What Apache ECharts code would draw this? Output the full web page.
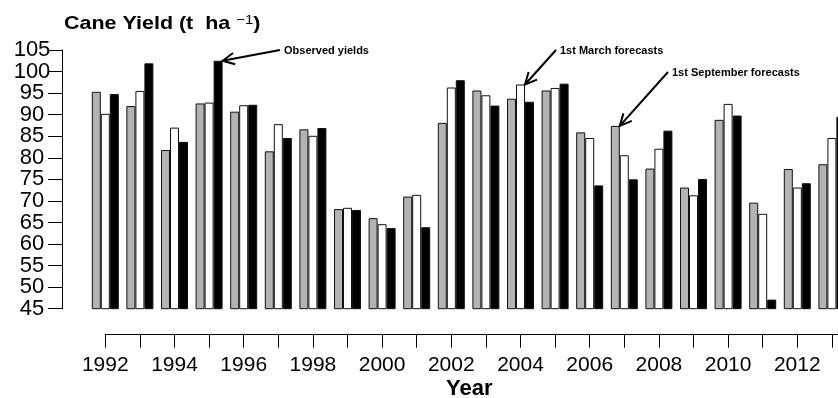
<!DOCTYPE html>
<html>
<head>
<meta charset="utf-8">
<script src="https://cdn.jsdelivr.net/npm/echarts@6/dist/echarts.min.js"></script>
<style>html,body{margin:0;padding:0;background:#fff;}#c{width:838px;height:398px;}</style>
</head>
<body>
<div id="c"></div>
<script>
// ---- data ----
const years = ['1992','1993','1994','1995','1996','1997','1998','1999','2000','2001','2002','2003','2004','2005','2006','2007','2008','2009','2010','2011','2012','2013'];
const septForecast = [95.3, 92.0, 81.8, 92.6, 90.7, 81.5, 86.6, 68.1, 66.0, 71.0, 88.1, 95.6, 93.7, 95.6, 85.9, 87.4, 77.5, 73.1, 88.8, 69.6, 77.4, 78.5];
const marchForecast = [90.2, 95.5, 87.0, 92.8, 92.2, 87.8, 85.1, 68.4, 64.6, 71.4, 96.3, 94.5, 97.0, 96.2, 84.6, 80.6, 82.1, 71.3, 92.5, 67.0, 73.1, 84.6];
const observed = [94.8, 101.9, 83.7, 102.5, 92.3, 84.6, 86.9, 67.9, 63.7, 63.9, 98.0, 92.1, 93.0, 97.2, 73.6, 75.0, 86.3, 75.1, 89.8, 47.1, 74.1, 89.5];
const yMin = 45, yMax = 105;
const yTicks = [45, 50, 55, 60, 65, 70, 75, 80, 85, 90, 95, 100, 105];
const yLabelsA = [45, 55, 65, 75, 85, 95, 105];
const yLabelsB = [50, 60, 70, 80, 90, 100];
const xTickMin = 1992, xTickMax = 2013.5;
const titleMain = 'Cane Yield (t  ha ', titleSup = '\u22121', titleEnd = ')';
const xName = 'Year';

const BW = 9;
const FONT = '"Liberation Sans", Arial, Helvetica, sans-serif';
const chart = echarts.init(document.getElementById('c'), null, {renderer: 'canvas'});

const barStyle = (fill) => ({color: fill, borderColor: '#111', borderWidth: 1});
const yLabelStyle = (vals) => ({customValues: vals, margin: 30, align: 'center', color: '#000', fontFamily: FONT, fontSize: 22,
  showMinLabel: true, showMaxLabel: true, hideOverlap: false});

chart.setOption({
  animation: false,
  backgroundColor: '#fff',
  title: [{
    text: xName, left: 446, top: 378, padding: 0,
    textStyle: {fontFamily: FONT, fontWeight: 'bold', fontSize: 22, color: '#000'}
  }],
  grid: [
    {left: 88, top: 50, width: 761.2, bottom: 89.3, containLabel: false, outerBoundsMode: 'none'},
    {left: 105.3, top: 50, width: 743.9, bottom: 89.3, containLabel: false, outerBoundsMode: 'none'}
  ],
  xAxis: [{
    type: 'category', gridIndex: 0, data: years, show: false
  }, {
    type: 'value', gridIndex: 1, min: xTickMin, max: xTickMax, interval: 1,
    position: 'bottom', offset: 26,
    axisLine: {show: true, onZero: false, lineStyle: {color: '#000', width: 1}},
    axisTick: {show: true, length: 13, lineStyle: {color: '#000', width: 1}},
    splitLine: {show: false},
    axisLabel: {
      margin: 20, color: '#000', fontFamily: FONT, fontSize: 21, showMinLabel: true, hideOverlap: false,
      formatter: v => (Number.isInteger(v) && v % 2 === 0) ? String(v) : ''
    }
  }],
  yAxis: [{
    type: 'value', gridIndex: 0, min: yMin, max: yMax,
    position: 'left', offset: 26,
    axisLine: {show: true, onZero: false, lineStyle: {color: '#000', width: 1}},
    axisTick: {show: true, customValues: yTicks, length: 14, lineStyle: {color: '#000', width: 1}},
    splitLine: {show: false},
    axisLabel: yLabelStyle(yLabelsA)
  }, {
    type: 'value', gridIndex: 0, min: yMin, max: yMax,
    position: 'left', offset: 26,
    axisLine: {show: false}, axisTick: {show: false}, splitLine: {show: false},
    axisLabel: yLabelStyle(yLabelsB)
  }, {
    type: 'value', gridIndex: 1, show: false, min: 0, max: 1
  }],
  series: [
    {name: '1st September forecasts', type: 'bar', xAxisIndex: 0, yAxisIndex: 0, data: septForecast, barWidth: BW, barGap: '0%', itemStyle: barStyle('#b3b3b3')},
    {name: '1st March forecasts', type: 'bar', xAxisIndex: 0, yAxisIndex: 0, data: marchForecast, barWidth: BW, barGap: '0%', itemStyle: barStyle('#ffffff')},
    {name: 'Observed yields', type: 'bar', xAxisIndex: 0, yAxisIndex: 0, data: observed, barWidth: BW, barGap: '0%', itemStyle: barStyle('#000000')}
  ]
});

// ---- annotations: arrow tips computed from the data through the axes ----
const seriesData = [septForecast, marchForecast, observed];
const annotations = [
  {label: 'Observed yields', series: 2, year: '1995', tail: [280, 50]},
  {label: '1st March forecasts', series: 1, year: '2004', tail: [556, 50]},
  {label: '1st September forecasts', series: 0, year: '2007', tail: [668, 72]}
];
const elements = [];
// chart title (horizontally widened like the reference)
elements.push({
  type: 'text', x: 64, y: 14, scaleX: 1.155, z: 100,
  style: {
    text: '{m|' + titleMain + '}{s|' + titleSup + '}{m|' + titleEnd + '}',
    verticalAlign: 'top',
    rich: {
      m: {fontFamily: FONT, fontWeight: 'bold', fontSize: 18.6, fill: '#000', verticalAlign: 'bottom'},
      s: {fontFamily: FONT, fontWeight: 'normal', fontSize: 13, fill: '#000', verticalAlign: 'top'}
    }
  }
});
annotations.forEach(a => {
  const idx = years.indexOf(a.year);
  const p = chart.convertToPixel({seriesIndex: a.series}, [idx, seriesData[a.series][idx]]);
  const tip = [p[0] + (a.series - 1) * BW + BW / 2, p[1]];
  const dx = a.tail[0] - tip[0], dy = a.tail[1] - tip[1];
  const ang = Math.atan2(dy, dx), L = 13, spread = 0.45;
  const arm1 = [tip[0] + L * Math.cos(ang + spread), tip[1] + L * Math.sin(ang + spread)];
  const arm2 = [tip[0] + L * Math.cos(ang - spread), tip[1] + L * Math.sin(ang - spread)];
  elements.push({type: 'line', shape: {x1: a.tail[0], y1: a.tail[1], x2: tip[0], y2: tip[1]}, style: {stroke: '#000', lineWidth: 2}, z: 100});
  elements.push({type: 'polyline', shape: {points: [arm1, tip, arm2]}, style: {stroke: '#000', lineWidth: 2, fill: null}, z: 100});
  elements.push({type: 'text', x: a.tail[0] + 4, y: a.tail[1] + 1, style: {text: a.label, font: 'bold 11px ' + FONT, fill: '#000', verticalAlign: 'middle'}, z: 100});
});
chart.setOption({graphic: elements});
</script>
</body>
</html>
